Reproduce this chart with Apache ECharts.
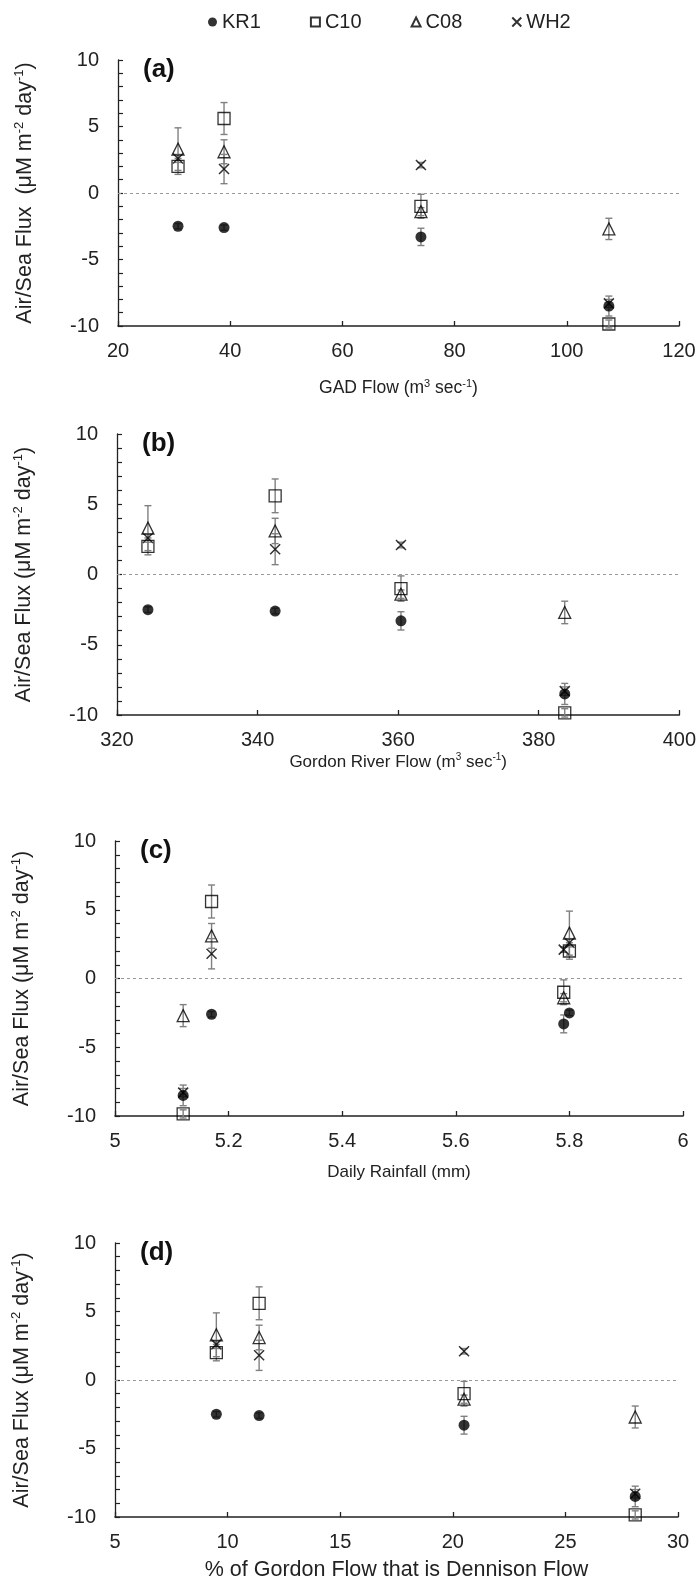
<!DOCTYPE html>
<html><head><meta charset="utf-8">
<script src="https://cdn.jsdelivr.net/npm/echarts@6/dist/echarts.min.js"></script>
<style>html,body{margin:0;padding:0;background:#fff}#c{width:699px;height:1584px}</style>
</head><body><div id="c"></div>
<script>
// ---- data ----
const stations = ['KR1', 'C10', 'C08', 'WH2'];
const xGAD = [30.7, 38.9, 74.0, 107.5];
const xGordon = [324.4, 342.5, 360.4, 383.7];
const xRain = [5.80, 5.17, 5.79, 5.12];
const xPct = [9.5, 11.4, 20.5, 28.1];
const fluxKR1 = [-2.5, -2.6, -3.3, -8.5];
const fluxC10 = [2.0, 5.6, -1.0, -9.85];
const fluxC08 = [3.3, 3.1, -1.4, -2.7];
const fluxWH2 = [2.6, 1.8, 2.1, -8.3];
const errKR1 = [0.2, 0.2, 0.65, 0.75];
const errC10 = [0.6, 1.2, 0.9, 0.3];
const errC08 = [1.6, 0.9, 0.3, 0.8];
const errWH2 = [0.3, 1.1, 0.2, 0.3];
const panelLabels = ['(a)', '(b)', '(c)', '(d)'];
const xTitles = ['GAD Flow (m{sup|3} sec{sup|-1})', 'Gordon River Flow (m{sup|3} sec{sup|-1})', 'Daily Rainfall (mm)', '% of Gordon Flow that is Dennison Flow'];
const yTitles = ['Air/Sea Flux  (μM m{sup|-2} day{sup|-1})', 'Air/Sea Flux (μM m{sup|-2} day{sup|-1})', 'Air/Sea Flux (μM m{sup|-2} day{sup|-1})', 'Air/Sea Flux (μM m{sup|-2} day{sup|-1})'];
const xMin = [20, 320, 5, 5];
const xMax = [120, 400, 6, 30];
const xStep = [20, 20, 0.2, 5];
const yMin = -10, yMax = 10, yStep = 5;

// ---- layout / style ----
const FONT = 'Liberation Sans, Arial, sans-serif';
const xsets = [xGAD, xGordon, xRain, xPct];
const fluxes = [fluxKR1, fluxC10, fluxC08, fluxWH2];
const errs = [errKR1, errC10, errC08, errWH2];
const grids = [
  {left: 118, top: 60, width: 561, height: 266},
  {left: 117, top: 434, width: 563, height: 281},
  {left: 115, top: 841, width: 568, height: 275},
  {left: 115, top: 1243, width: 563, height: 274}
];
const xNameGap = [52, 37, 46, 41];
const xNameSize = [17.5, 17, 17, 21.5];
const symStyles = {
  KR1: {symbol: 'circle', symbolSize: 11, itemStyle: {color: '#000'}},
  C10: {symbol: 'rect', symbolSize: 12, itemStyle: {color: 'rgba(255,255,255,0)', borderColor: '#000', borderWidth: 1.3}},
  C08: {symbol: 'triangle', symbolSize: 12, itemStyle: {color: 'rgba(255,255,255,0)', borderColor: '#000', borderWidth: 1.3}},
  WH2: {symbol: 'path://M0,0L10,10M10,0L0,10', symbolSize: 10, itemStyle: {color: 'rgba(255,255,255,0)', borderColor: '#000', borderWidth: 1.5}}
};
function richFor(sz) {
  return {sup: {fontSize: Math.round(sz * 0.6), verticalAlign: 'top', lineHeight: Math.round(sz * 1.15), fontFamily: FONT, color: '#222'}};
}

const xAxes = [], yAxes = [], series = [], titles = [];
grids.forEach((g, i) => {
  xAxes.push({
    type: 'value', gridIndex: i, min: xMin[i], max: xMax[i], interval: xStep[i],
    name: xTitles[i], nameLocation: 'middle', nameGap: xNameGap[i],
    nameTextStyle: {fontSize: xNameSize[i], fontFamily: FONT, color: '#222', lineHeight: Math.round(xNameSize[i] * 1.15), rich: richFor(xNameSize[i])},
    axisLine: {show: true, onZero: false, lineStyle: {color: '#222', width: 1.6}},
    axisTick: {show: true, inside: true, length: 5, lineStyle: {color: '#222', width: 1.3}},
    axisLabel: {fontSize: 20, fontFamily: FONT, color: '#222', margin: 15},
    splitLine: {show: false}
  });
  yAxes.push({
    type: 'value', gridIndex: i, min: yMin, max: yMax, interval: yStep,
    name: yTitles[i], nameLocation: 'middle', nameGap: 80,
    nameTextStyle: {fontSize: 21.5, fontFamily: FONT, color: '#222', lineHeight: 25, rich: richFor(21.5)},
    axisLine: {show: true, lineStyle: {color: '#222', width: 1.3}},
    axisTick: {show: true, inside: true, length: 5, lineStyle: {color: '#222', width: 1.2}},
    minorTick: {show: true, splitNumber: 5, length: 5, lineStyle: {color: '#222', width: 1.2}},
    axisLabel: {fontSize: 20, fontFamily: FONT, color: '#222', margin: 19},
    splitLine: {show: false}
  });
  titles.push({
    text: panelLabels[i], left: g.left + 25, top: g.top - 3, padding: 0,
    textStyle: {fontSize: 26, fontWeight: 'bold', fontFamily: FONT, color: '#111'}
  });
  // error bars (all stations) + zero line
  const errData = [];
  stations.forEach((s, k) => {
    for (let j = 0; j < 4; j++) errData.push([xsets[i][j], fluxes[k][j], errs[k][j]]);
  });
  series.push({
    type: 'custom', name: 'err' + i, xAxisIndex: i, yAxisIndex: i, z: 1, silent: true,
    data: errData, encode: {x: 0, y: 1},
    renderItem: function (params, api) {
      const x = api.value(0), y = api.value(1), e = api.value(2);
      const t = api.coord([x, y + e]), b = api.coord([x, y - e]);
      const cw = 3.5, st = {stroke: '#808080', lineWidth: 1.4};
      return {type: 'group', children: [
        {type: 'line', shape: {x1: t[0], y1: t[1], x2: b[0], y2: b[1]}, style: st},
        {type: 'line', shape: {x1: t[0] - cw, y1: t[1], x2: t[0] + cw, y2: t[1]}, style: st},
        {type: 'line', shape: {x1: b[0] - cw, y1: b[1], x2: b[0] + cw, y2: b[1]}, style: st}
      ]};
    },
    markLine: {
      silent: true, symbol: ['none', 'none'], label: {show: false},
      lineStyle: {type: [3, 3], color: '#999', width: 1},
      data: [{yAxis: 0}]
    }
  });
  stations.forEach((s, k) => {
    series.push(Object.assign({
      type: 'scatter', name: s, xAxisIndex: i, yAxisIndex: i, z: 3,
      data: xsets[i].map((x, j) => [x, fluxes[k][j]])
    }, JSON.parse(JSON.stringify(symStyles[s]))));
  });
});

const chart = echarts.init(document.getElementById('c'), null, {renderer: 'canvas'});
chart.setOption({
  animation: false,
  backgroundColor: '#fff',
  title: titles,
  legend: {
    data: stations, top: 7, left: 203, itemGap: 49, itemWidth: 9, itemHeight: 9,
    textStyle: {fontSize: 20, fontFamily: FONT, color: '#222'}
  },
  grid: grids,
  xAxis: xAxes,
  yAxis: yAxes,
  series: series
});
</script></body></html>
